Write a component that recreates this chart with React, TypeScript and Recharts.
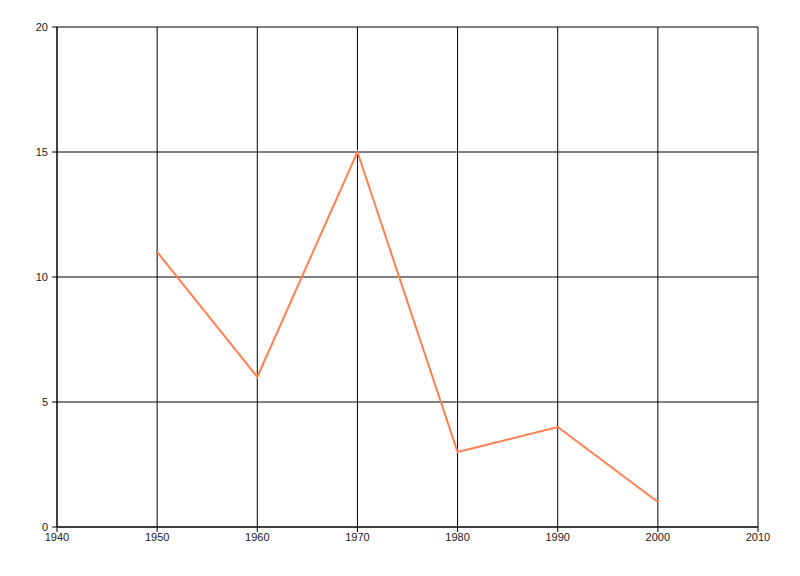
import React from 'react';
import { LineChart, Line, XAxis, YAxis, CartesianGrid } from 'recharts';

const years = [1950, 1960, 1970, 1980, 1990, 2000];
const values = [11, 6, 15, 3, 4, 1];
const xTicks = [1940, 1950, 1960, 1970, 1980, 1990, 2000, 2010];
const yTicks = [0, 5, 10, 15, 20];

const data = years.map((year, i) => ({ year, value: values[i] }));

const tickStyle = { fill: '#1a1a1a', fontSize: 11, fontFamily: 'Liberation Sans, Arial, sans-serif' };

const App: React.FC = () => {
  return (
    <div style={{ position: 'absolute', top: 0, left: 0, background: '#fff' }}>
      <LineChart width={800} height={576} data={data} margin={{ top: 27, right: 42, bottom: 19, left: 0 }}>
        <CartesianGrid stroke="#000" strokeWidth={1} horizontalValues={yTicks} verticalValues={xTicks} />
        <XAxis
          dataKey="year"
          type="number"
          domain={[1940, 2010]}
          ticks={xTicks}
          height={30}
          axisLine={{ stroke: '#000' }}
          tickLine={{ stroke: '#000' }}
          tickSize={5}
          tickMargin={1}
          tick={tickStyle}
        />
        <YAxis
          type="number"
          domain={[0, 20]}
          ticks={yTicks}
          width={57}
          axisLine={{ stroke: '#000' }}
          tickLine={{ stroke: '#000' }}
          tickSize={5}
          tickMargin={4}
          tick={tickStyle}
        />
        <Line
          type="linear"
          dataKey="value"
          stroke="#FF7F50"
          strokeWidth={2}
          dot={false}
          isAnimationActive={false}
        />
      </LineChart>
    </div>
  );
};

export default App;
